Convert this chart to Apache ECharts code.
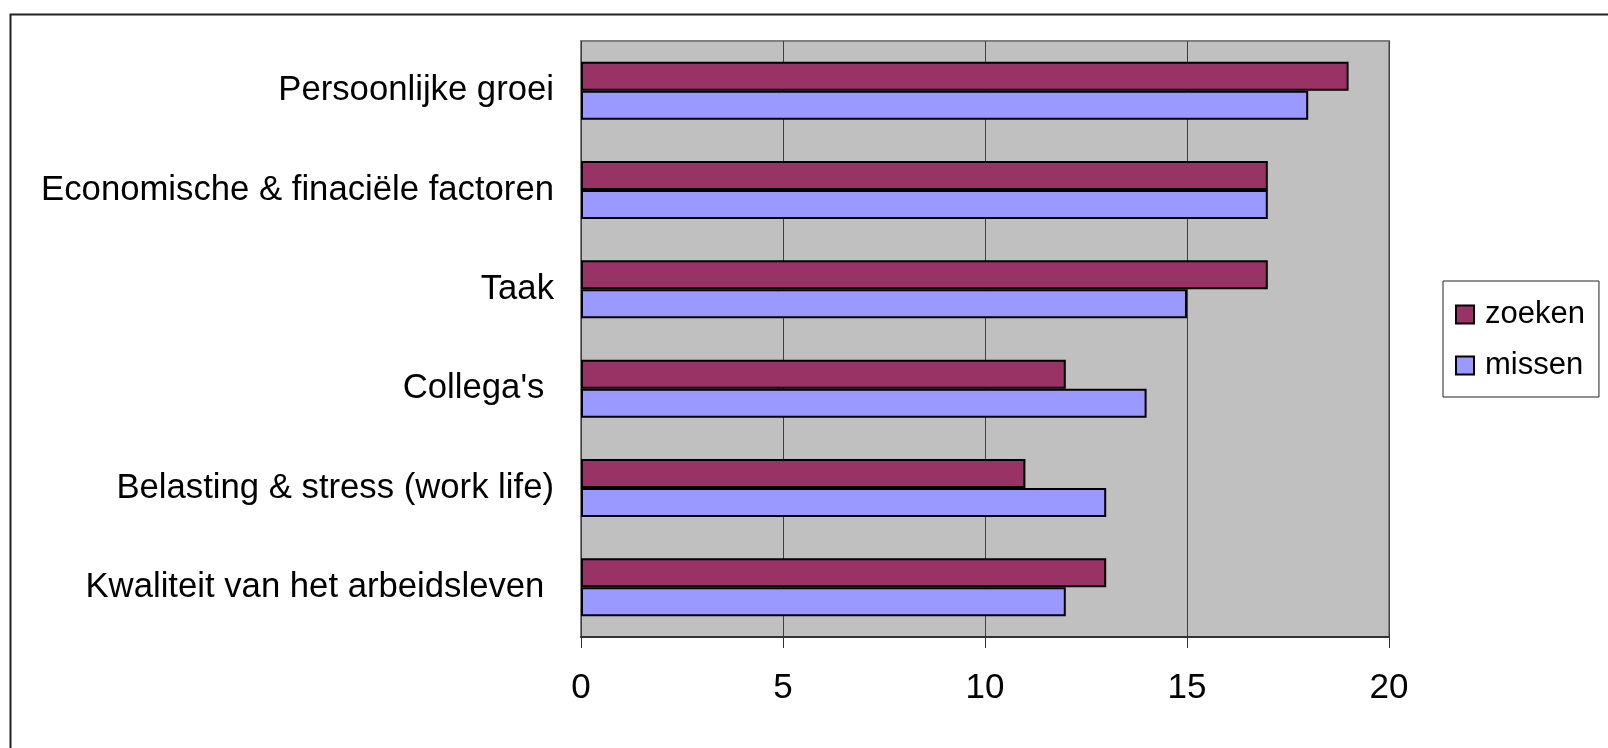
<!DOCTYPE html>
<html>
<head>
<meta charset="utf-8">
<script src="https://cdn.jsdelivr.net/npm/echarts@6/dist/echarts.min.js"></script>
<style>
  html, body { margin: 0; padding: 0; background: #ffffff; }
  #chart { width: 1608px; height: 748px; }
</style>
</head>
<body>
<div id="chart"></div>
<script>
// Categories, top to bottom
const categories = [
  'Persoonlijke groei',
  'Economische & finaciële factoren',
  'Taak',
  "Collega's ",
  'Belasting & stress (work life)',
  'Kwaliteit van het arbeidsleven '
];
const zoeken = [19, 17, 17, 12, 11, 13];
const missen = [18, 17, 15, 14, 13, 12];
const xTicks = [0, 5, 10, 15, 20];

const FONT = '"Liberation Sans", Arial, sans-serif';

const chart = echarts.init(document.getElementById('chart'), null, { renderer: 'canvas' });

chart.setOption({
  animation: false,
  backgroundColor: '#ffffff',
  graphic: [{
    type: 'rect',
    left: 8, top: 12,
    shape: { width: 1700, height: 800 },
    style: { fill: 'none', stroke: '#222222', lineWidth: 2 },
    z: -1
  }],
  grid: {
    left: 581, top: 41, width: 808, height: 596,
    show: true,
    backgroundColor: '#C0C0C0',
    borderColor: '#808080',
    borderWidth: 2
  },
  legend: {
    orient: 'vertical',
    left: 1443, top: 281,
    padding: [18, 14, 16, 12],
    itemWidth: 18, itemHeight: 18,
    itemGap: 20,
    borderColor: '#222222',
    borderWidth: 1,
    icon: 'rect',
    textStyle: { fontFamily: FONT, fontSize: 31, color: '#000000', padding: [0, 0, 0, 6] },
    data: ['zoeken', 'missen']
  },
  xAxis: {
    type: 'value',
    min: xTicks[0], max: xTicks[xTicks.length - 1], interval: 5,
    axisLine: { show: true, onZero: false, lineStyle: { color: '#333333', width: 2 } },
    axisTick: { show: true, length: 11, lineStyle: { color: '#333333', width: 1 } },
    splitLine: { show: true, lineStyle: { color: '#404040', width: 1 } },
    axisLabel: {
      margin: 34,
      fontFamily: FONT, fontSize: 35, color: '#000000'
    }
  },
  yAxis: {
    type: 'category',
    inverse: true,
    data: categories,
    axisLine: { show: false },
    axisTick: { show: false },
    splitLine: { show: false },
    axisLabel: {
      margin: 27,
      fontFamily: FONT, fontSize: 34.7, color: '#000000'
    }
  },
  series: [
    {
      name: 'zoeken', type: 'bar', data: zoeken,
      barWidth: 29, barGap: '0%',
      itemStyle: { color: '#993366', borderColor: '#000000', borderWidth: 2 }
    },
    {
      name: 'missen', type: 'bar', data: missen,
      barWidth: 29, barGap: '0%',
      itemStyle: { color: '#9999FF', borderColor: '#000000', borderWidth: 2 }
    }
  ]
});
</script>
</body>
</html>
